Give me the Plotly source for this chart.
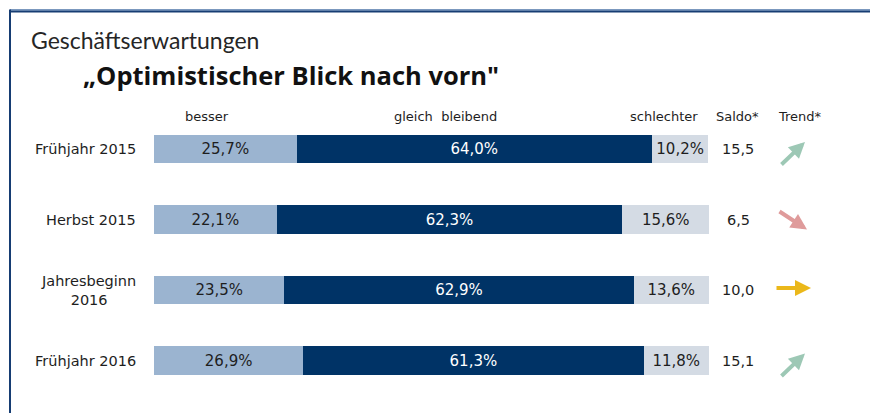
import plotly.graph_objects as go

# Survey waves and answer shares (percent)
categories = ["Frühjahr 2015", "Herbst 2015", "Jahresbeginn<br>2016", "Frühjahr 2016"]
besser = [25.7, 22.1, 23.5, 26.9]
gleich = [64.0, 62.3, 62.9, 61.3]
schlechter = [10.2, 15.6, 13.6, 11.8]
saldo = [15.5, 6.5, 10.0, 15.1]
trend = ["up", "down", "flat", "up"]
headers = ["besser", "gleich  bleibend", "schlechter", "Saldo*", "Trend*"]

W, H = 870, 413
FONT = "DejaVu Sans"
C_BESSER = "#9bb4d0"
C_GLEICH = "#003366"
C_SCHLECHTER = "#d4dbe4"
TXT = "#1e1e1e"


def de(v, pct=False):
    s = f"{v:.1f}".replace(".", ",")
    return s + "%" if pct else s


def px(x):
    return x / W


def py(y):
    return 1 - y / H


fig = go.Figure()
series = [
    ("besser", besser, C_BESSER, TXT),
    ("gleich bleibend", gleich, C_GLEICH, "white"),
    ("schlechter", schlechter, C_SCHLECHTER, TXT),
]
for name, vals, col, tcol in series:
    fig.add_trace(go.Bar(
        name=name, x=vals, y=categories, orientation="h",
        marker=dict(color=col, line=dict(width=0)),
        text=[de(v, True) for v in vals],
        textposition="inside", insidetextanchor="middle",
        textfont=dict(family=FONT, size=15, color=tcol),
        width=0.4, hoverinfo="skip",
    ))

# x: 0..100 % spans the bar area; extended range leaves room for labels
scale = 5.55
x0_px = 154
xr = [-x0_px / scale, 100 + (W - 709) / scale]
row0_px, row_step = 149, 70.5
yr = [3 + (H - (row0_px + 3 * row_step)) / row_step, -row0_px / row_step]

ann = []
ann.append(dict(text="Geschäftserwartungen", xref="paper", yref="paper",
                x=px(29), y=py(40), xanchor="left", yanchor="middle",
                showarrow=False, font=dict(family="Lato", size=23, color="#262626")))
ann.append(dict(text="<b>„Optimistischer Blick nach vorn\"</b>", xref="paper", yref="paper",
                x=px(81), y=py(75), xanchor="left", yanchor="middle",
                showarrow=False, font=dict(family="Open Sans", size=25.5, color="#111111")))

header_x = [207, 446, 664, 737, 800]
for t, hx in zip(headers, header_x):
    ann.append(dict(text=t, xref="paper", yref="paper", x=px(hx), y=py(116),
                    xanchor="center", yanchor="middle", showarrow=False,
                    font=dict(family=FONT, size=13, color=TXT)))

for cat, s, tr in zip(categories, saldo, trend):
    ann.append(dict(text=cat, xref="paper", yref="y", x=px(138), y=cat,
                    xanchor="right", yanchor="middle", align="center", showarrow=False,
                    font=dict(family=FONT, size=14.5, color=TXT)))
    ann.append(dict(text=de(s), xref="paper", yref="y", x=px(738), y=cat,
                    xanchor="center", yanchor="middle", showarrow=False,
                    font=dict(family=FONT, size=14.5, color=TXT)))
    if tr == "up":
        tip, ax, ay, col = (805, -25, 24, "#9dc8b5")
        tipy_off = -7
    elif tr == "down":
        tip, ax, ay, col = (807, -29, -19, "#df9b9b")
        tipy_off = 10
    else:
        tip, ax, ay, col = (811, -36, 0, "#ebb81a")
        tipy_off = -2
    ann.append(dict(text="", xref="paper", yref="y", x=px(tip), y=cat,
                    yshift=-tipy_off, ax=ax, ay=ay, axref="pixel", ayref="pixel",
                    showarrow=True, arrowhead=2, arrowsize=0.8, arrowwidth=4,
                    arrowcolor=col, standoff=0))

shapes = [
    dict(type="line", xref="paper", yref="paper", x0=px(10), x1=1, y0=py(10), y1=py(10),
         line=dict(color="#4f76a8", width=1.5)),
    dict(type="line", xref="paper", yref="paper", x0=px(10), x1=1, y0=py(11.7), y1=py(11.7),
         line=dict(color="#163d73", width=1.8)),
    dict(type="line", xref="paper", yref="paper", x0=px(10), x1=px(10), y0=py(9.5), y1=0,
         line=dict(color="#163d73", width=2)),
]

fig.update_layout(
    width=W, height=H, barmode="stack", showlegend=False,
    margin=dict(l=0, r=0, t=0, b=0),
    paper_bgcolor="white", plot_bgcolor="white",
    xaxis=dict(range=xr, visible=False, fixedrange=True),
    yaxis=dict(range=yr, visible=False, type="category", categoryorder="array",
               categoryarray=categories, fixedrange=True),
    annotations=ann, shapes=shapes,
    uniformtext=dict(minsize=15, mode="show"),
)

fig.write_html("out.html")
